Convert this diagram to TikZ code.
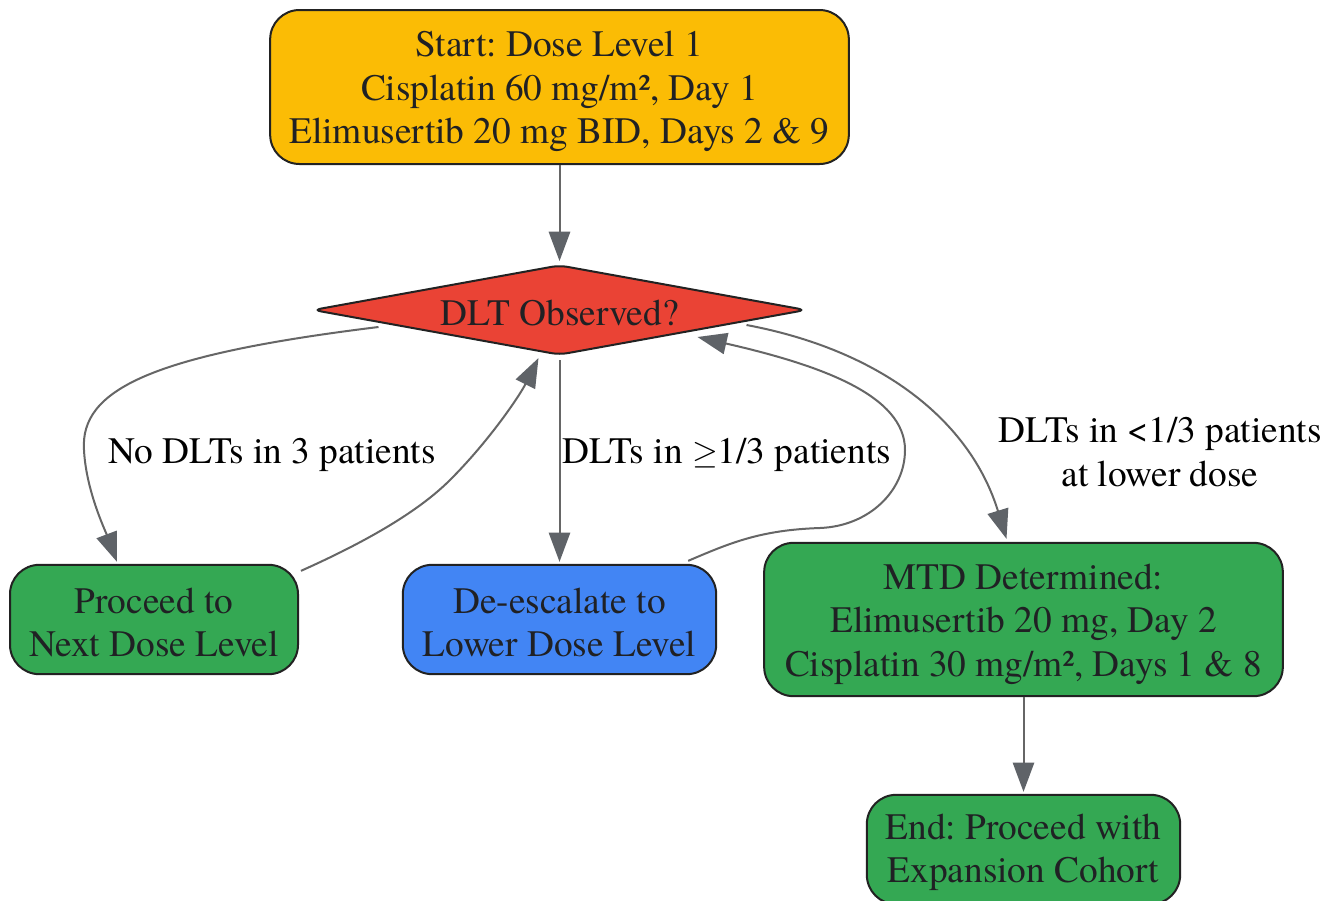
\documentclass[tikz,border=0pt]{standalone}
\usepackage{fontspec}
\setmainfont{texgyretermes-regular.otf}[BoldFont=texgyretermes-bold.otf]
\frenchspacing
\usetikzlibrary{shapes.geometric,arrows.meta,calc}
\definecolor{cyellow}{HTML}{FBBC05}
\definecolor{cred}{HTML}{EA4335}
\definecolor{cgreen}{HTML}{34A853}
\definecolor{cblue}{HTML}{4285F4}
\definecolor{cborder}{HTML}{222222}
\definecolor{ctext}{HTML}{202124}
\definecolor{cline}{HTML}{666666}
\definecolor{ctip}{HTML}{5F6368}
\begin{document}
\begin{tikzpicture}[x=0.75pt,y=-0.75pt,
  box/.style={draw=cborder, line width=1.5pt, rounded corners=22pt, inner sep=0pt},
  txt/.style={align=center, text=ctext, font=\fontsize{28}{32.6}\selectfont, inner sep=0pt},
  dia/.style={diamond, aspect=5.48, draw=cborder, line width=1.5pt, fill=cred, text=ctext,
    font=\fontsize{28}{32.6}\selectfont, minimum width=370pt, minimum height=67.5pt,
    rounded corners=6pt, inner sep=0pt, execute at begin node={\rule{0pt}{24pt}}},
  lbl/.style={font=\fontsize{28}{32.6}\selectfont, align=center, text=black},
  conn/.style={draw=cline, line width=1.5pt,
    -{Triangle[length=22pt,width=16pt,color=ctip]}}]
\clip (0,0) rectangle (1332,900);
\fill[white] (0,0) rectangle (1332,900);

\node[box, fill=cyellow, minimum width=434pt, minimum height=115.5pt] (start) at (559.5,87) {};
\node[txt] (starttxt) at ($(start.center)+(0,4.5)$)
  {Start: Dose Level 1\\Cisplatin 60 mg/m², Day 1\\Elimusertib 20 mg BID, Days 2 \& 9};
\node[dia] (dlt) at (559.5,310) {DLT Observed?};
\node[box, fill=cgreen, minimum width=216pt, minimum height=82pt] (next) at (154,619.5) {};
\node[txt] (nexttxt) at ($(next.center)+(0,3)$) {Proceed to\\Next Dose Level};
\node[box, fill=cblue, minimum width=235pt, minimum height=82pt] (lower) at (559.5,619.5) {};
\node[txt] (lowertxt) at ($(lower.center)+(0,3)$) {De-escalate to\\Lower Dose Level};
\node[box, fill=cgreen, minimum width=389pt, minimum height=115pt] (mtd) at (1023.5,619.5) {};
\node[txt] (mtdtxt) at ($(mtd.center)+(0,4.5)$)
  {MTD Determined:\\Elimusertib 20 mg, Day 2\\Cisplatin 30 mg/m², Days 1 \& 8};
\node[box, fill=cgreen, minimum width=235pt, minimum height=82pt] (end) at (1023.5,849.5) {};
\node[txt] (endtxt) at ($(end.center)+(0,3)$) {End: Proceed with\\Expansion Cohort};

\node[lbl] (l1) at (272,455) {No DLTs in 3 patients};
\node[lbl] (l2) at (727,455) {DLTs in $\geq$1/3 patients};
\node[lbl] (l3) at (1160,452) {DLTs in <1/3 patients\\at lower dose};

\draw[conn] (start.south) -- ($(dlt.north)+(0,-3)$);
\draw[conn] ($(dlt.south)+(0,4)$) -- ($(lower.north)+(0,-2)$);
\draw[conn] (mtd.south) -- ($(end.north)+(0,-2)$);

\draw[conn] ($(dlt.center)+(-181,17)$) .. controls (150,355) and (80,390) .. (84,450)
  .. controls (86,490) and (105,530) .. ($(next.north)+(-37,-2)$);
\draw[conn] ($(next.north east)+(2,7)$) .. controls (370,540) and (420,510) .. (450,480)
  .. controls (490,440) and (520,395) .. ($(dlt.center)+(-21,48)$);
\draw[conn] ($(lower.north east)+(-29,-3)$) .. controls (730,543) and (760,530) .. (820,528)
  .. controls (870,526) and (905,490) .. (905,450)
  .. controls (905,395) and (820,365) .. ($(dlt.center)+(138,27)$);
\draw[conn] ($(dlt.center)+(187,15)$) .. controls (880,350) and (970,420) .. ($(mtd.north)+(-17,-3)$);
\end{tikzpicture}
\end{document}
